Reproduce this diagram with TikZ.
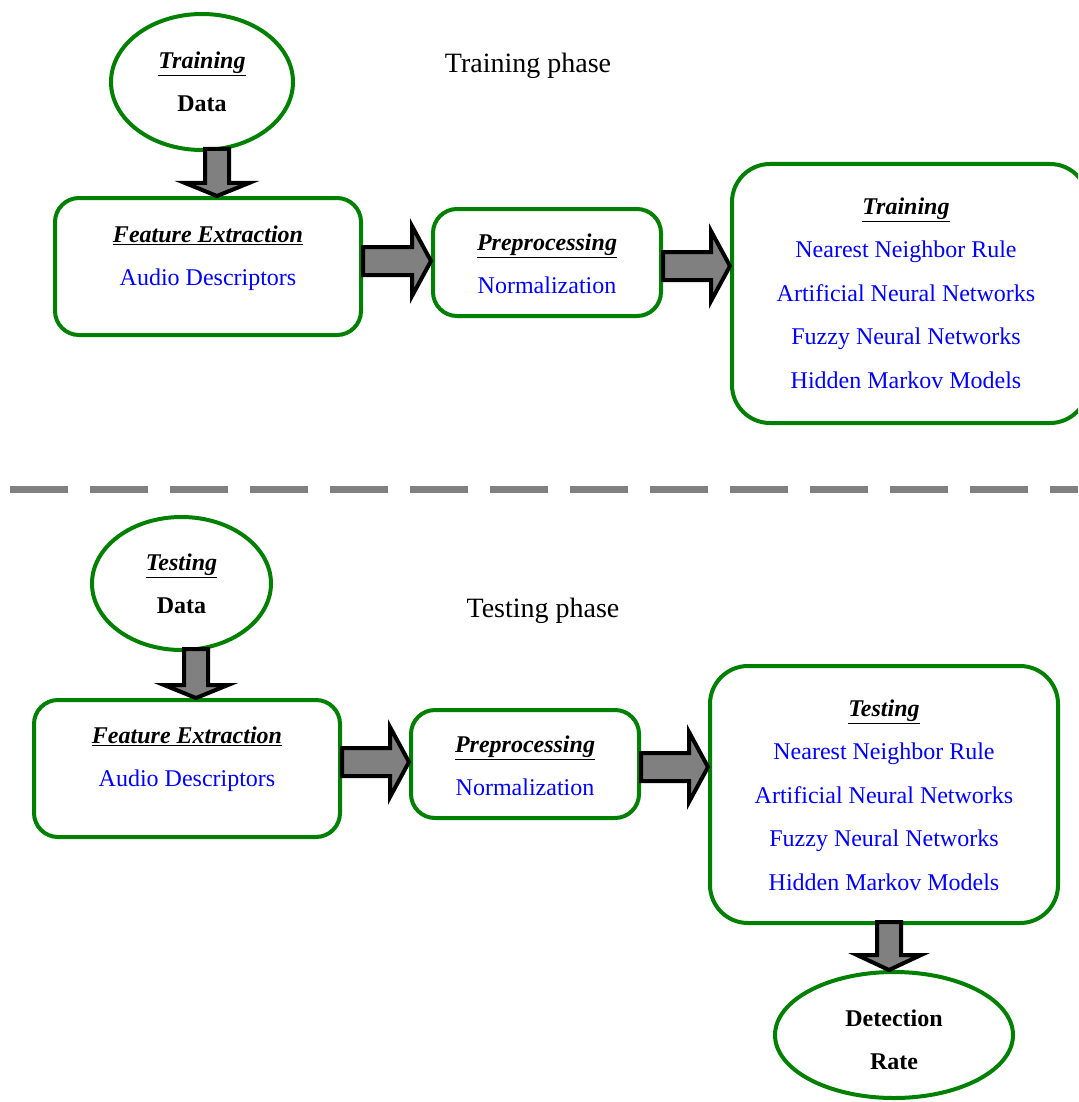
\documentclass[tikz,border=0pt]{standalone}
\usepackage{fontspec}
\setmainfont{Liberation Serif}
\usetikzlibrary{shapes.geometric,calc}
\definecolor{grn}{RGB}{0,128,0}
\newcommand{\hd}[1]{\textbf{\textit{\underline{#1}}}}
\newcommand{\bl}[1]{\textcolor{blue}{#1}}
% right block arrow: #1 source, #2 target, #3 y (picture units)
\newcommand{\rightblock}[3]{%
  \draw[blk] let \p1=(#1.east), \p2=(#2.west), \p3=(0,#3) in
    (\x1,\y3+14pt) -- (\x2-19pt,\y3+14pt) -- (\x2-19pt,\y3+35pt) -- (\x2,\y3)
    -- (\x2-19pt,\y3-35pt) -- (\x2-19pt,\y3-14pt) -- (\x1,\y3-14pt) -- cycle;}
% down block arrow: #1 source, #2 target, #3 x, #4 head length
\newcommand{\downblock}[4]{%
  \draw[blk] let \p1=(#1.south), \p2=(#2.north), \p3=(#3,0) in
    (\x3-12pt,\y1+3pt) -- (\x3-12pt,\y2+#4pt) -- (\x3-32pt,\y2+#4pt) -- (\x3,\y2)
    -- (\x3+32pt,\y2+#4pt) -- (\x3+12pt,\y2+#4pt) -- (\x3+12pt,\y1+3pt) -- cycle;}
\begin{document}
\begin{tikzpicture}[x=1pt,y=-1pt,
  box/.style={draw=grn, line width=4pt, rounded corners=24pt, inner sep=0pt},
  bigbox/.style={box, rounded corners=38pt},
  oval/.style={ellipse, draw=grn, line width=4pt, inner sep=0pt},
  lbl/.style={align=center, font=\fontsize{24}{43.5}\selectfont, inner sep=0pt},
  phase/.style={font=\fontsize{28}{34}\selectfont, inner sep=0pt},
  blk/.style={draw=black, fill=gray, line width=4pt, line join=miter},
  sep/.style={draw=gray, line width=7pt, dash pattern=on 58pt off 22pt}]
\useasboundingbox (0,0) rectangle (1078,1102);
\clip (0,0) rectangle (1078,1102);

% ---------- Training phase ----------
\node[oval, minimum width=182pt, minimum height=136pt] (trd) at (202,82) {};
\node[lbl] (trdt) at (202,82) {\hd{Training}\\\textbf{Data}};
\node[phase] (trph) at (528,66) {Training phase};

\node[box, minimum width=306pt, minimum height=137pt] (fe1) at (208,266.5) {};
\node[lbl] (fe1t) at (208,258) {\hd{Feature Extraction}\\\bl{Audio Descriptors}};

\node[box, minimum width=228pt, minimum height=107pt] (pp1) at (547,262.5) {};
\node[lbl] (pp1t) at (547,264) {\hd{Preprocessing}\\\bl{Normalization}};

\node[bigbox, minimum width=356pt, minimum height=259pt] (tr1) at (910,293.5) {};
\node[lbl] (tr1t) at (906,293) {\hd{Training}\\\bl{Nearest Neighbor Rule}\\\bl{Artificial Neural Networks}\\\bl{Fuzzy Neural Networks}\\\bl{Hidden Markov Models}};

\downblock{trd}{fe1}{217}{13}
\rightblock{fe1}{pp1}{261}
\rightblock{pp1}{tr1}{266}

% ---------- separator ----------
\coordinate (sl) at (10,489);
\coordinate (sr) at (1078,489);
\draw[sep] (sl) -- (sr);

% ---------- Testing phase ----------
\node[oval, minimum width=179pt, minimum height=133pt] (ted) at (181.5,583.5) {};
\node[lbl] (tedt) at (181.5,584) {\hd{Testing}\\\textbf{Data}};
\node[phase] (teph) at (543,611) {Testing phase};

\node[box, minimum width=306pt, minimum height=137pt] (fe2) at (187,768.5) {};
\node[lbl] (fe2t) at (187,759) {\hd{Feature Extraction}\\\bl{Audio Descriptors}};

\node[box, minimum width=228pt, minimum height=108pt] (pp2) at (525,764) {};
\node[lbl] (pp2t) at (525,766) {\hd{Preprocessing}\\\bl{Normalization}};

\node[bigbox, minimum width=348pt, minimum height=257pt] (te2) at (884,794.5) {};
\node[lbl] (te2t) at (884,795) {\hd{Testing}\\\bl{Nearest Neighbor Rule}\\\bl{Artificial Neural Networks}\\\bl{Fuzzy Neural Networks}\\\bl{Hidden Markov Models}};

\node[oval, minimum width=238pt, minimum height=126pt] (dr) at (894,1035) {};
\node[lbl] (drt) at (894,1040) {\textbf{Detection}\\\textbf{Rate}};

\downblock{ted}{fe2}{196}{13}
\rightblock{fe2}{pp2}{762}
\rightblock{pp2}{te2}{767}
\downblock{te2}{dr}{889}{15}
\end{tikzpicture}
\end{document}
